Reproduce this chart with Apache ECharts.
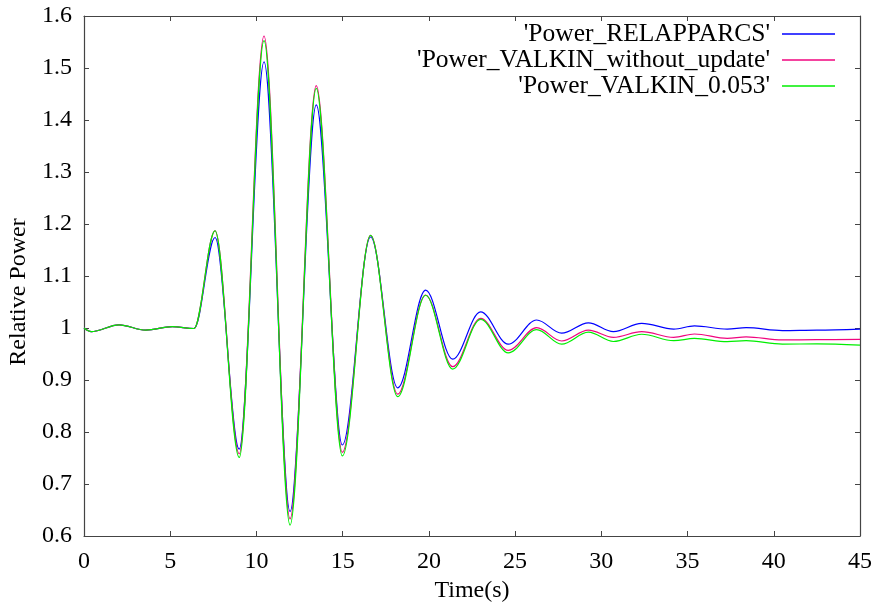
<!DOCTYPE html>
<html>
<head>
<meta charset="utf-8">
<script src="https://cdn.jsdelivr.net/npm/echarts@6/dist/echarts.min.js"></script>
<style>
  html, body { margin: 0; padding: 0; background: #fff; }
  #chart { width: 877px; height: 605px; }
</style>
</head>
<body>
<div id="chart"></div>
<script>
// Time points (s) at the turning points of the power transient
const times = [0, 0.42, 2.03, 3.58, 5.12, 6.38, 7.6, 9.0, 10.44, 11.95, 13.47, 14.98, 16.62, 18.19, 19.81,
  21.38, 23.0, 24.6, 26.25, 27.7, 29.25, 30.7, 32.34, 34.2, 35.4, 37.3, 38.4, 40.5, 42.5, 45];

const powerRelapParcs = [1.0, 0.993, 1.006, 0.996, 1.0025, 0.999, 1.174, 0.767, 1.512, 0.647, 1.429, 0.775, 1.175, 0.885, 1.073,
  0.940, 1.031, 0.969, 1.0154, 0.990, 1.010, 0.993, 1.009, 0.998, 1.004, 0.998, 1.0006, 0.995, 0.996, 0.998];

const powerValkinNoUpdate = [1.0, 0.993, 1.006, 0.996, 1.0025, 0.999, 1.187, 0.758, 1.5615, 0.633, 1.466, 0.761, 1.178, 0.873, 1.0635,
  0.9256, 1.0186, 0.957, 1.0006, 0.975, 0.996, 0.982, 0.993, 0.982, 0.9885, 0.980, 0.983, 0.977, 0.9775, 0.978];

const powerValkin0053 = [1.0, 0.993, 1.006, 0.996, 1.0025, 0.999, 1.187, 0.751, 1.5525, 0.621, 1.461, 0.754, 1.178, 0.868, 1.063,
  0.921, 1.0167, 0.952, 0.997, 0.969, 0.992, 0.974, 0.988, 0.9756, 0.980, 0.9737, 0.9756, 0.969, 0.9695, 0.967];

const seriesNames = ["'Power_RELAPPARCS'", "'Power_VALKIN_without_update'", "'Power_VALKIN_0.053'"];
const seriesColors = ['#0000ff', '#f0057f', '#00ee00'];
const seriesValues = [powerRelapParcs, powerValkinNoUpdate, powerValkin0053];

const FONT = 'Liberation Serif';
const FONT_SIZE = 24;
const borderColor = '#444';

function pairs(values) {
  return times.map((t, i) => [t, values[i]]);
}

const chart = echarts.init(document.getElementById('chart'), null, { renderer: 'canvas' });

const tickStyle = { show: true, inside: true, length: 5, lineStyle: { color: borderColor, width: 1 } };
const lineStyleAxis = { show: true, onZero: false, lineStyle: { color: borderColor, width: 1.2 } };

chart.setOption({
  animation: false,
  backgroundColor: '#fff',
  grid: { left: 84, right: 17, top: 16, bottom: 69, containLabel: false, outerBoundsMode: 'none' },
  legend: {
    orient: 'vertical',
    right: 37,
    top: 16,
    align: 'right',
    icon: 'rect',
    itemWidth: 53,
    itemHeight: 1.5,
    itemGap: 0,
    data: seriesNames,
    textStyle: { fontFamily: FONT, fontSize: 25.5, color: '#000', lineHeight: 24.5, padding: [0, 7, 0, 0] }
  },
  xAxis: [
    {
      type: 'value', min: 0, max: 45, interval: 5, position: 'bottom',
      name: 'Time(s)', nameLocation: 'middle', nameGap: 40,
      nameTextStyle: { fontFamily: FONT, fontSize: FONT_SIZE, color: '#000' },
      axisLine: lineStyleAxis, axisTick: tickStyle, splitLine: { show: false },
      axisLabel: { fontFamily: FONT, fontSize: FONT_SIZE, color: '#000', margin: 14 }
    },
    {
      type: 'value', min: 0, max: 45, interval: 5, position: 'top',
      axisLine: lineStyleAxis, axisTick: tickStyle, splitLine: { show: false },
      axisLabel: { show: false }
    }
  ],
  yAxis: [
    {
      type: 'value', min: 0.6, max: 1.6, interval: 0.1, position: 'left',
      name: 'Relative Power', nameLocation: 'middle', nameGap: 50, nameRotate: 90,
      nameTextStyle: { fontFamily: FONT, fontSize: FONT_SIZE, color: '#000', padding: [0, 32, 0, 0] },
      axisLine: lineStyleAxis, axisTick: tickStyle, splitLine: { show: false },
      axisLabel: {
        fontFamily: FONT, fontSize: FONT_SIZE, color: '#000', margin: 12,
        formatter: v => String(+v.toFixed(1))
      }
    },
    {
      type: 'value', min: 0.6, max: 1.6, interval: 0.1, position: 'right',
      axisLine: lineStyleAxis, axisTick: tickStyle, splitLine: { show: false },
      axisLabel: { show: false }
    }
  ],
  series: seriesNames.map((name, i) => ({
    name: name,
    type: 'line',
    xAxisIndex: 0,
    yAxisIndex: 0,
    data: pairs(seriesValues[i]),
    showSymbol: false,
    symbol: 'none',
    smooth: 0.35,
    smoothMonotone: 'x',
    color: seriesColors[i],
    lineStyle: { color: seriesColors[i], width: 1.2 },
    emphasis: { disabled: true }
  }))
});
</script>
</body>
</html>
